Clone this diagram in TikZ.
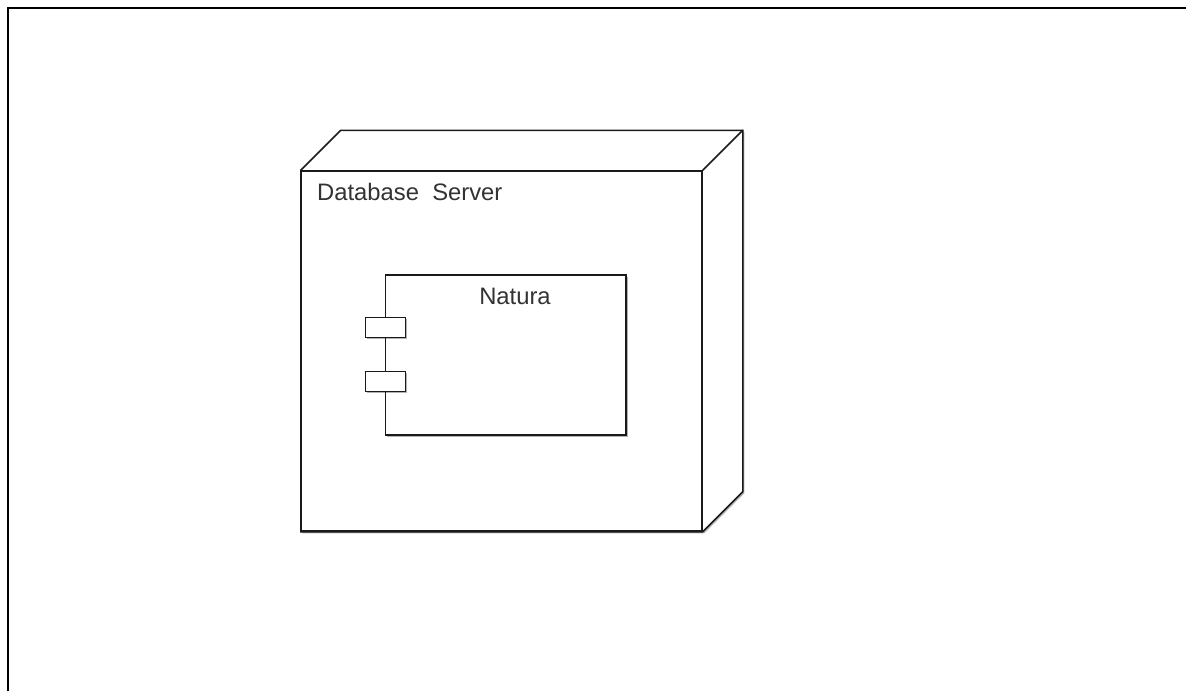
\documentclass[tikz,border=0pt]{standalone}
\usepackage{fontspec}
\setmainfont{Liberation Sans}
\usetikzlibrary{positioning, calc, shadows, backgrounds}
\definecolor{edge}{HTML}{1A1A1A}
\tikzset{
  shape line/.style={draw=edge, line width=1.5pt},
  soft shadow/.style={drop shadow={shadow xshift=1.5pt, shadow yshift=-1.5pt, opacity=0.3, fill=black}},
  port box/.style={shape line, fill=white, soft shadow, minimum width=40pt, minimum height=20pt, inner sep=0pt},
  caption/.style={font=\fontsize{23.8}{28}\selectfont, text=black!80, inner sep=0pt}
}
\begin{document}
\begin{tikzpicture}[x=1pt, y=-1pt]
  \useasboundingbox (0,0) rectangle (1186,691);
  % outer frame
  \coordinate (framebl) at (8,691);
  \coordinate (frametl) at (8,8);
  \coordinate (frametr) at (1186,8);
  \draw[black, line width=2pt] (framebl) -- (frametl) -- (frametr);
  % server cube
  \node[shape line, minimum width=400.5pt, minimum height=360pt, inner sep=0pt] (server) at (501.75,351) {};
  \coordinate (backtl) at ($(server.north west)+(40,-40)$);
  \coordinate (backtr) at ($(server.north east)+(40,-40)$);
  \coordinate (backbr) at ($(server.south east)+(40,-40)$);
  \begin{scope}[on background layer]
    \draw[shape line, fill=white, soft shadow] (server.north west) -- (backtl) -- (backtr) -- (backbr)
      -- (server.south east) -- (server.south west) -- cycle;
  \end{scope}
  \draw[shape line] (server.north east) -- (backtr);
  \node[caption, anchor=base west] (serverlabel) at (317,200) {Database\ \ Server};
  % component
  \node[shape line, fill=white, soft shadow, minimum width=240.5pt, minimum height=160pt, inner sep=0pt] (natura) at (505.75,355) {};
  \node[caption, anchor=base] (naturalabel) at (515,304) {Natura};
  \node[port box] (porta) at (385.5,327.5) {};
  \node[port box] (portb) at (385.5,381.3) {};
\end{tikzpicture}
\end{document}
